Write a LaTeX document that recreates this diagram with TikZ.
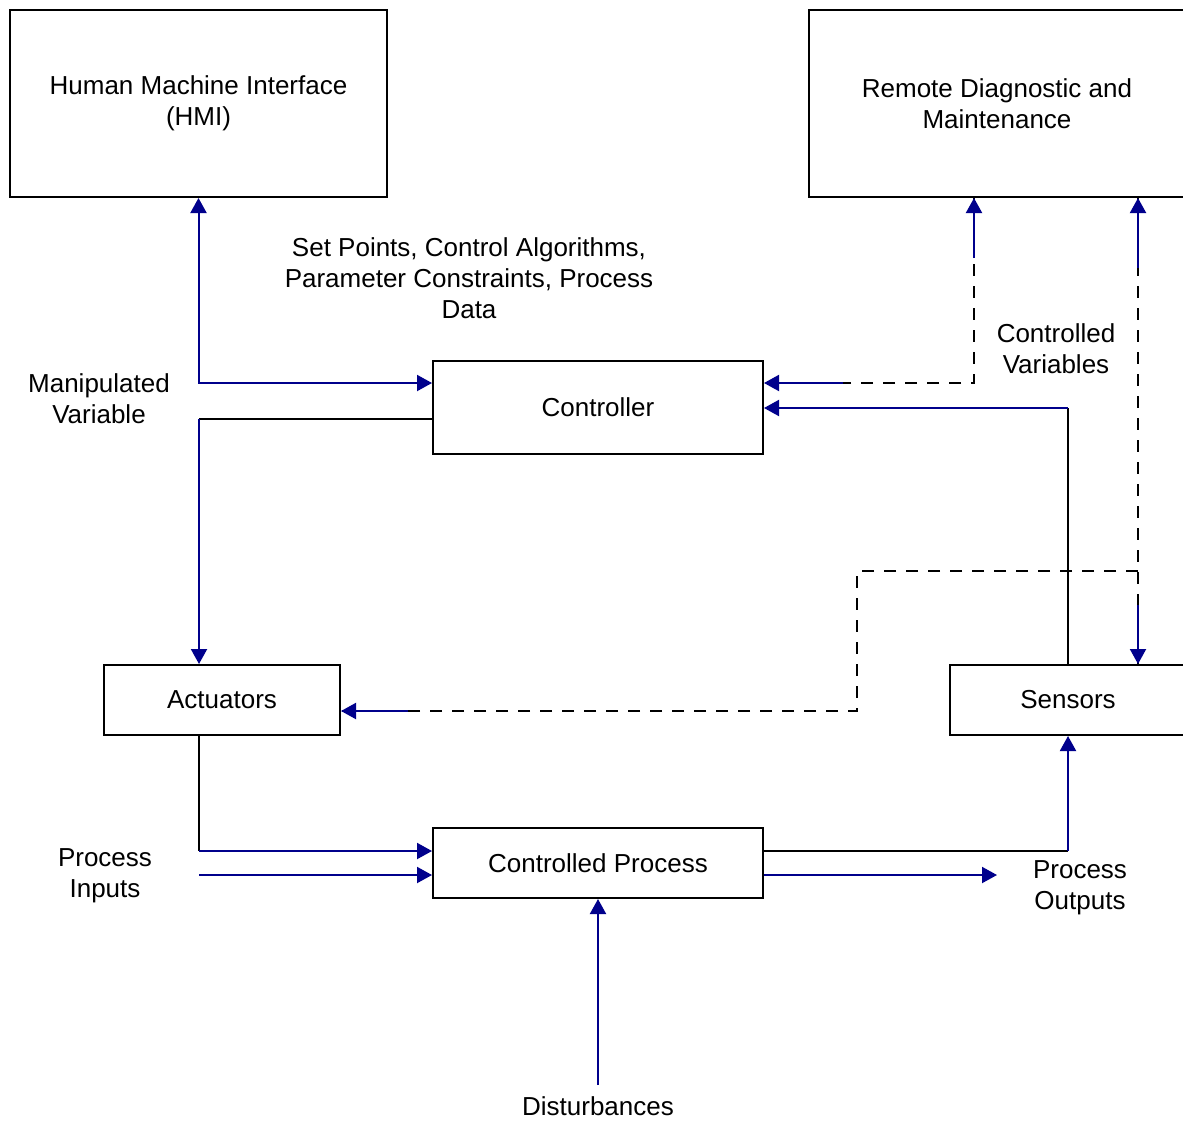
\documentclass[tikz,border=0pt]{standalone}
\usepackage{fontspec}
\setmainfont{Liberation Sans}
\usetikzlibrary{arrows.meta}
\definecolor{linkblue}{RGB}{0,0,140}

\begin{document}
\begin{tikzpicture}[x=0.5pt,y=-0.5pt,line width=1pt,
box/.style={draw,inner sep=0pt,align=center,font=\fontsize{13pt}{15.5pt}\selectfont},
lbl/.style={align=center,inner sep=0pt,font=\fontsize{13pt}{15.5pt}\selectfont},
conn/.style={linkblue,-{Triangle[length=7.5pt,width=8pt]}},
dashln/.style={dash pattern=on 6pt off 5pt}]
\useasboundingbox (0,0) rectangle (1183,1120);
% boxes
\node[box,minimum width=188.5pt,minimum height=93.5pt] (hmi) at (198.5,103.5) {Human Machine Interface\\(HMI)};
\node[box,minimum width=188pt,minimum height=93.5pt] (rdm) at (997,103.5) {Remote Diagnostic and\\Maintenance};
\node[box,minimum width=165pt,minimum height=46.5pt] (ctrl) at (598,407.5) {Controller};
\node[box,minimum width=118pt,minimum height=35pt] (act) at (222,700) {Actuators};
\node[box,minimum width=118pt,minimum height=35pt] (sens) at (1068,700) {Sensors};
\node[box,minimum width=165pt,minimum height=35pt] (proc) at (598,863) {Controlled Process};
% labels
\node[lbl] (setpts) at (469,278) {Set Points, Control Algorithms,\\Parameter Constraints, Process\\Data};
\node[lbl] (manip) at (99,399) {Manipulated\\Variable};
\node[lbl] (cvars) at (1056,348.5) {Controlled\\Variables};
\node[lbl] (pin) at (105,876) {Process\\Inputs};
\node[lbl] (pout) at (1080,888) {Process\\Outputs};
\node[lbl] (dist) at (598,1106) {Disturbances};
% corners
\coordinate (k1) at (199,419);
\coordinate (k2) at (974,383);
\coordinate (k2a) at (974,258);
\coordinate (k2b) at (843,383);
\coordinate (k3) at (1068,408);
\coordinate (k4a) at (1138,268);
\coordinate (k4b) at (1138,605);
\coordinate (k5) at (1138,571);
\coordinate (k6) at (857,711);
\coordinate (k6b) at (408,711);
\coordinate (k7) at (199,851);
\coordinate (k8) at (199,875);
\coordinate (k9) at (1068,851);
\coordinate (k10) at (997,875);
\coordinate (k11) at (598,1085);
% HMI <-> controller
\draw[conn,{Triangle[length=7.5pt,width=8pt]}-{Triangle[length=7.5pt,width=8pt]}] (hmi.south) |- ([yshift=12.25pt]ctrl.west);
% controller -> actuators
\draw (ctrl.west |- k1) -- (k1);
\draw[conn] (k1) -- (k1 |- act.north);
% remote <-> controller
\draw[dashln] (k2 |- rdm.south) -- (k2) -- (ctrl.east |- k2);
\draw[conn] (k2a) -- (k2a |- rdm.south);
\draw[conn] (k2b) -- (ctrl.east |- k2b);
% sensors -> controller
\draw (sens.north) -- (k3);
\draw[conn] (k3) -- (ctrl.east |- k3);
% remote <-> sensors
\draw[dashln] (k4a |- rdm.south) -- (k4a |- sens.north);
\draw[conn] (k4a) -- (k4a |- rdm.south);
\draw[conn] (k4b) -- (k4b |- sens.north);
% remote -> actuators
\draw[dashln] (k5) -| (k6) -- (act.east |- k6);
\draw[conn] (k6b) -- (act.east |- k6b);
% actuators -> process
\draw (k7 |- act.south) -- (k7);
\draw[conn] (k7) -- (proc.west |- k7);
\draw[conn] (k8) -- (proc.west |- k8);
% process -> sensors
\draw (proc.east |- k9) -- (k9);
\draw[conn] (k9) -- (sens.south);
\draw[conn] (proc.east |- k10) -- (k10);
\draw[conn] (k11) -- (proc.south);
\end{tikzpicture}
\end{document}
